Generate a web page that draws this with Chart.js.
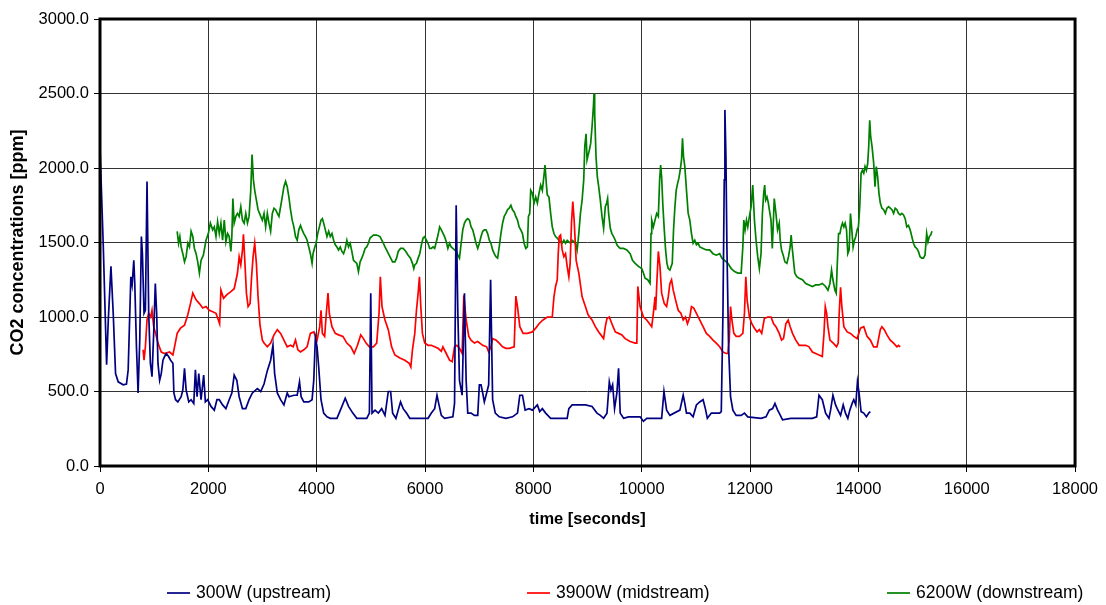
<!DOCTYPE html>
<html>
<head>
<meta charset="utf-8">
<title>CO2 concentrations</title>
<script src="https://cdn.jsdelivr.net/npm/chart.js@4.4.1/dist/chart.umd.min.js"></script>
<style>
  html, body { margin: 0; padding: 0; background: #fff; }
  #wrap { width: 1106px; height: 605px; }
</style>
</head>
<body>
<div id="wrap"><canvas id="co2Chart" width="1106" height="605"></canvas></div>
<script>
/* ---- measured series: time [s] / CO2 [ppm] ---- */

// 300W (upstream)
const upTime = [0, 61, 122, 153, 202, 244, 287, 336, 428, 489, 520, 550, 569, 593, 624, 642, 673, 703, 734, 764,
  783, 813, 838, 868, 899, 930, 960, 991, 1021, 1046, 1070, 1101, 1131, 1162, 1193, 1223, 1266, 1303, 1346, 1364,
  1395, 1437, 1498, 1529, 1560, 1590, 1639, 1682, 1731, 1761, 1792, 1823, 1865, 1914, 1945, 1988, 2049, 2110, 2159, 2202,
  2263, 2324, 2385, 2434, 2477, 2526, 2569, 2630, 2691, 2752, 2813, 2905, 2967, 3028, 3089, 3150, 3193, 3224, 3273, 3334,
  3395, 3456, 3487, 3579, 3640, 3683, 3713, 3762, 3854, 3915, 3946, 3976, 4007, 4037, 4080, 4129, 4190, 4251, 4374, 4466,
  4527, 4588, 4667, 4741, 4924, 4973, 4998, 5022, 5077, 5138, 5200, 5261, 5322, 5365, 5402, 5463, 5505, 5548, 5597, 5658,
  5719, 6056, 6117, 6178, 6221, 6258, 6301, 6361, 6514, 6545, 6575, 6606, 6636, 6685, 6728, 6759, 6789, 6850, 6912, 6973,
  7003, 7034, 7065, 7095, 7138, 7175, 7211, 7248, 7297, 7370, 7493, 7615, 7707, 7750, 7799, 7848, 7921, 7982, 8074, 8117,
  8166, 8227, 8319, 8624, 8655, 8716, 8961, 9083, 9175, 9236, 9297, 9359, 9402, 9432, 9463, 9499, 9542, 9573, 9603, 9665,
  9756, 9970, 10032, 10093, 10368, 10411, 10460, 10521, 10705, 10766, 10796, 10827, 10888, 10949, 11010, 11071, 11133, 11175, 11212, 11286,
  11439, 11469, 11500, 11524, 11536, 11555, 11573, 11604, 11640, 11683, 11744, 11836, 11897, 11958, 12203, 12295, 12356, 12417, 12460, 12509,
  12539, 12600, 12753, 13151, 13230, 13273, 13334, 13395, 13457, 13487, 13530, 13579, 13609, 13671, 13720, 13762, 13805, 13842, 13885, 13915,
  13952, 13983, 14013, 14050, 14099, 14148, 14191, 14221];
const upCO2 = [2140, 1470, 680, 980, 1340, 1025, 620, 565, 545, 550, 645, 1025, 1270, 1215, 1380, 1225, 800, 490, 845, 1540,
  1425, 1025, 1045, 1910, 1025, 690, 600, 890, 1225, 1025, 690, 575, 620, 710, 735, 755, 735, 710, 690, 490,
  445, 430, 465, 510, 655, 510, 430, 445, 420, 645, 465, 620, 445, 610, 430, 445, 400, 375, 445, 445,
  410, 385, 445, 490, 610, 575, 465, 385, 385, 445, 490, 520, 500, 550, 640, 710, 810, 620, 490, 445,
  410, 490, 465, 475, 475, 565, 465, 430, 430, 445, 575, 860, 800, 665, 445, 355, 330, 320, 320, 400,
  455, 400, 355, 320, 320, 355, 1160, 355, 375, 355, 385, 340, 500, 500, 355, 320, 375, 430, 385, 355,
  320, 320, 355, 385, 475, 410, 340, 320, 330, 420, 1750, 1025, 575, 475, 1160, 575, 355, 355, 340, 340,
  545, 545, 490, 430, 490, 545, 1250, 445, 355, 330, 320, 330, 355, 475, 475, 375, 385, 375, 410, 365,
  385, 355, 320, 320, 385, 410, 410, 400, 355, 340, 320, 355, 565, 510, 545, 385, 490, 655, 355, 320,
  330, 330, 300, 320, 320, 500, 375, 340, 375, 475, 420, 355, 355, 330, 410, 430, 445, 385, 320, 355,
  355, 365, 1025, 1920, 2390, 2075, 1470, 800, 465, 375, 340, 340, 355, 330, 320, 330, 375, 385, 420, 375,
  355, 310, 320, 320, 330, 475, 445, 355, 320, 375, 475, 410, 385, 340, 410, 355, 320, 375, 420, 445,
  410, 565, 490, 365, 355, 330, 355, 365];

// 3900W (midstream)
const midTime = [795, 813, 838, 868, 899, 936, 960, 991, 1027, 1070, 1131, 1193, 1284, 1346, 1376, 1425, 1486, 1560, 1621, 1670,
  1713, 1774, 1835, 1896, 1957, 2018, 2080, 2141, 2184, 2208, 2232, 2281, 2343, 2416, 2477, 2538, 2569, 2599, 2630, 2648,
  2673, 2703, 2734, 2771, 2795, 2826, 2856, 2887, 2918, 2954, 2997, 3028, 3089, 3150, 3212, 3273, 3334, 3395, 3456, 3517,
  3566, 3609, 3652, 3701, 3762, 3823, 3884, 3946, 4007, 4056, 4080, 4105, 4147, 4178, 4209, 4233, 4282, 4343, 4404, 4484,
  4557, 4631, 4692, 4753, 4814, 4863, 4912, 4973, 5047, 5108, 5151, 5175, 5206, 5261, 5322, 5383, 5444, 5536, 5628, 5707,
  5738, 5768, 5811, 5842, 5873, 5897, 5922, 5952, 5995, 6056, 6117, 6178, 6240, 6301, 6330, 6392, 6453, 6502, 6545, 6587,
  6636, 6685, 6716, 6759, 6808, 6850, 6912, 6973, 7065, 7138, 7175, 7217, 7248, 7309, 7370, 7431, 7493, 7554, 7646, 7677,
  7707, 7750, 7811, 7890, 7982, 8043, 8104, 8178, 8257, 8349, 8380, 8410, 8441, 8459, 8477, 8502, 8532, 8563, 8594, 8624,
  8655, 8679, 8704, 8728, 8753, 8790, 8839, 8900, 8961, 9010, 9083, 9144, 9206, 9267, 9297, 9328, 9359, 9402, 9450, 9512,
  9573, 9634, 9695, 9787, 9879, 9910, 9928, 9970, 10032, 10093, 10185, 10215, 10246, 10258, 10282, 10307, 10337, 10368, 10417, 10460,
  10490, 10521, 10551, 10582, 10625, 10674, 10723, 10766, 10808, 10845, 10888, 10919, 10961, 11010, 11071, 11133, 11194, 11255, 11316, 11377,
  11439, 11500, 11561, 11591, 11616, 11640, 11665, 11701, 11744, 11805, 11867, 11897, 11922, 11946, 11989, 12032, 12081, 12130, 12172, 12215,
  12264, 12326, 12387, 12435, 12478, 12539, 12582, 12618, 12661, 12704, 12741, 12784, 12845, 12906, 12967, 13028, 13089, 13151, 13212, 13273,
  13334, 13365, 13389, 13414, 13438, 13475, 13536, 13597, 13628, 13646, 13671, 13695, 13732, 13793, 13854, 13915, 13977, 14038, 14099, 14160,
  14221, 14282, 14344, 14405, 14435, 14478, 14527, 14588, 14650, 14711, 14741, 14772];
const midCO2 = [780, 710, 800, 980, 1025, 1000, 1045, 935, 890, 825, 765, 755, 765, 745, 800, 890, 925, 945, 1015, 1090,
  1160, 1115, 1090, 1060, 1070, 1045, 1035, 1025, 980, 955, 1180, 1125, 1150, 1170, 1190, 1295, 1405, 1350, 1450, 1555,
  1380, 1160, 1070, 1090, 1250, 1405, 1495, 1360, 1135, 945, 845, 825, 800, 825, 880, 915, 890, 845, 800, 810,
  800, 845, 780, 765, 780, 800, 890, 900, 845, 935, 1045, 890, 870, 1025, 1160, 1025, 935, 890, 880, 870,
  825, 800, 755, 810, 880, 855, 825, 800, 800, 825, 1025, 1270, 1070, 980, 915, 800, 745, 725, 710, 690,
  665, 780, 890, 1045, 1160, 1270, 1070, 890, 825, 810, 810, 800, 790, 770, 800, 755, 710, 700, 800, 810,
  790, 755, 1145, 980, 870, 845, 825, 835, 810, 800, 765, 800, 855, 845, 825, 800, 790, 790, 800, 1140,
  1070, 935, 890, 890, 900, 925, 955, 980, 1000, 1000, 1135, 1205, 1250, 1425, 1540, 1550, 1450, 1405, 1425, 1340,
  1270, 1360, 1630, 1775, 1650, 1380, 1295, 1135, 1070, 1015, 980, 935, 900, 870, 855, 935, 990, 1000, 955, 900,
  890, 880, 855, 835, 825, 825, 1205, 1070, 1000, 980, 935, 1025, 1135, 1045, 1250, 1440, 1340, 1160, 1090, 1070,
  1135, 1225, 1250, 1180, 1115, 1045, 1025, 980, 1000, 955, 1000, 1070, 1060, 1025, 980, 935, 890, 870, 845, 825,
  800, 765, 755, 755, 845, 1070, 980, 890, 870, 870, 890, 1025, 1270, 1115, 1000, 955, 925, 900, 915, 890,
  990, 1000, 1000, 955, 935, 890, 845, 855, 955, 980, 935, 890, 845, 810, 810, 810, 800, 765, 755, 745,
  735, 890, 1070, 1025, 935, 845, 825, 800, 825, 1025, 1200, 1070, 935, 900, 890, 870, 855, 925, 935, 870,
  845, 800, 800, 915, 935, 915, 880, 845, 825, 800, 810, 800];

// 6200W (downstream)
const downTime = [1425, 1450, 1474, 1498, 1529, 1560, 1590, 1621, 1651, 1682, 1713, 1743, 1774, 1804, 1835, 1865, 1908, 1957, 2000, 2037,
  2080, 2110, 2141, 2171, 2202, 2232, 2263, 2294, 2324, 2355, 2385, 2416, 2434, 2453, 2477, 2508, 2538, 2569, 2599, 2630,
  2661, 2691, 2722, 2752, 2783, 2807, 2832, 2856, 2887, 2918, 2967, 2997, 3028, 3058, 3089, 3119, 3150, 3181, 3212, 3242,
  3273, 3303, 3334, 3364, 3395, 3426, 3456, 3487, 3517, 3548, 3579, 3609, 3640, 3670, 3701, 3731, 3762, 3793, 3823, 3854,
  3884, 3915, 3933, 3958, 3988, 4019, 4050, 4080, 4105, 4129, 4160, 4190, 4221, 4251, 4282, 4313, 4343, 4374, 4404, 4435,
  4466, 4496, 4527, 4557, 4588, 4618, 4649, 4680, 4710, 4741, 4771, 4802, 4833, 4863, 4894, 4924, 4955, 4985, 5016, 5047,
  5108, 5169, 5218, 5261, 5303, 5352, 5401, 5444, 5475, 5505, 5548, 5597, 5646, 5689, 5732, 5768, 5793, 5811, 5842, 5873,
  5903, 5934, 5964, 5995, 6025, 6056, 6086, 6117, 6148, 6178, 6209, 6240, 6270, 6301, 6361, 6392, 6422, 6453, 6483, 6514,
  6545, 6575, 6606, 6636, 6667, 6697, 6728, 6759, 6789, 6820, 6850, 6881, 6912, 6942, 6973, 7003, 7034, 7065, 7095, 7126,
  7156, 7187, 7217, 7248, 7278, 7309, 7340, 7370, 7401, 7432, 7462, 7493, 7523, 7554, 7585, 7615, 7646, 7676, 7707, 7737,
  7768, 7799, 7829, 7860, 7890, 7909, 7933, 7951, 7982, 8013, 8043, 8074, 8104, 8135, 8166, 8196, 8215, 8239, 8257, 8288,
  8319, 8349, 8380, 8410, 8441, 8471, 8502, 8533, 8563, 8594, 8625, 8655, 8686, 8716, 8747, 8778, 8808, 8839, 8869, 8900,
  8930, 8949, 8973, 8991, 9010, 9034, 9058, 9083, 9108, 9120, 9132, 9157, 9181, 9206, 9236, 9267, 9297, 9328, 9353, 9371,
  9389, 9420, 9450, 9481, 9512, 9542, 9573, 9603, 9665, 9726, 9787, 9830, 9879, 9940, 10001, 10032, 10062, 10111, 10154, 10172,
  10185, 10215, 10246, 10276, 10307, 10331, 10350, 10368, 10392, 10417, 10441, 10466, 10490, 10521, 10564, 10588, 10613, 10637, 10662, 10686,
  10711, 10735, 10753, 10772, 10796, 10827, 10858, 10888, 10919, 10949, 10980, 11010, 11041, 11072, 11133, 11194, 11255, 11316, 11377, 11439,
  11481, 11530, 11591, 11653, 11714, 11775, 11836, 11867, 11885, 11909, 11934, 11958, 11989, 12020, 12050, 12081, 12111, 12142, 12172, 12203,
  12228, 12252, 12270, 12289, 12313, 12338, 12356, 12387, 12411, 12447, 12478, 12508, 12539, 12557, 12582, 12612, 12643, 12680, 12710, 12741,
  12759, 12777, 12802, 12826, 12863, 12906, 12967, 13028, 13089, 13151, 13212, 13273, 13334, 13395, 13438, 13475, 13505, 13530, 13567, 13591,
  13609, 13634, 13659, 13683, 13707, 13732, 13756, 13781, 13805, 13830, 13854, 13879, 13903, 13928, 13952, 13977, 14001, 14025, 14050, 14074,
  14099, 14123, 14148, 14172, 14191, 14209, 14227, 14252, 14283, 14307, 14331, 14356, 14380, 14405, 14435, 14466, 14497, 14527, 14558, 14588,
  14619, 14650, 14680, 14711, 14741, 14772, 14803, 14833, 14864, 14894, 14925, 14956, 14986, 15017, 15047, 15078, 15108, 15139, 15169, 15200,
  15230, 15261, 15285, 15310, 15334, 15359];
const downCO2 = [1575, 1495, 1540, 1470, 1425, 1370, 1405, 1495, 1470, 1575, 1540, 1460, 1425, 1370, 1295, 1380, 1415, 1515, 1560, 1630,
  1585, 1605, 1540, 1640, 1560, 1630, 1515, 1650, 1505, 1560, 1540, 1440, 1540, 1795, 1630, 1675, 1695, 1675, 1740, 1650,
  1630, 1695, 1630, 1675, 1850, 2090, 1920, 1850, 1785, 1720, 1675, 1650, 1695, 1605, 1695, 1630, 1575, 1695, 1730, 1720,
  1695, 1675, 1740, 1805, 1875, 1910, 1875, 1805, 1720, 1650, 1605, 1540, 1515, 1585, 1615, 1585, 1560, 1540, 1515, 1470,
  1425, 1360, 1425, 1460, 1495, 1560, 1605, 1650, 1660, 1630, 1585, 1540, 1575, 1540, 1560, 1515, 1485, 1470, 1450, 1470,
  1440, 1425, 1460, 1515, 1470, 1495, 1440, 1380, 1370, 1360, 1305, 1370, 1395, 1425, 1460, 1470, 1495, 1530, 1540, 1550,
  1550, 1540, 1505, 1470, 1440, 1405, 1370, 1370, 1395, 1440, 1460, 1460, 1440, 1415, 1395, 1360, 1325, 1350, 1360, 1395,
  1425, 1485, 1530, 1540, 1515, 1495, 1460, 1460, 1470, 1460, 1505, 1550, 1605, 1585, 1540, 1505, 1460, 1495, 1470, 1460,
  1450, 1440, 1415, 1395, 1495, 1585, 1630, 1650, 1660, 1650, 1605, 1585, 1540, 1495, 1460, 1495, 1540, 1575, 1585, 1585,
  1560, 1515, 1495, 1450, 1425, 1405, 1395, 1470, 1560, 1630, 1675, 1695, 1720, 1730, 1750, 1720, 1705, 1675, 1650, 1605,
  1585, 1560, 1495, 1460, 1470, 1675, 1695, 1850, 1830, 1765, 1805, 1765, 1830, 1885, 1850, 1950, 2020, 1895, 1820, 1805,
  1695, 1605, 1560, 1540, 1530, 1515, 1505, 1495, 1515, 1495, 1515, 1505, 1495, 1515, 1505, 1495, 1450, 1560, 1695, 1785,
  1920, 2145, 2230, 2055, 2085, 2120, 2165, 2275, 2410, 2500, 2365, 2075, 1940, 1875, 1785, 1675, 1595, 1740, 1765, 1795,
  1695, 1595, 1560, 1540, 1515, 1485, 1470, 1460, 1460, 1450, 1425, 1380, 1360, 1340, 1325, 1295, 1260, 1250, 1225, 1560,
  1650, 1605, 1650, 1695, 1675, 1920, 2020, 1940, 1740, 1585, 1450, 1360, 1325, 1315, 1360, 1585, 1740, 1850, 1895, 1930,
  1985, 2055, 2200, 2075, 2010, 1850, 1695, 1650, 1560, 1495, 1515, 1485, 1495, 1470, 1460, 1450, 1450, 1425, 1415, 1425,
  1395, 1380, 1360, 1325, 1305, 1295, 1295, 1470, 1650, 1585, 1650, 1605, 1675, 1740, 1885, 1650, 1515, 1405, 1325, 1425,
  1695, 1830, 1885, 1785, 1805, 1765, 1720, 1650, 1460, 1795, 1695, 1585, 1630, 1515, 1450, 1415, 1370, 1360, 1405, 1470,
  1550, 1470, 1380, 1295, 1270, 1260, 1250, 1225, 1215, 1205, 1215, 1215, 1225, 1205, 1180, 1225, 1315, 1250, 1180, 1160,
  1340, 1560, 1560, 1605, 1630, 1605, 1630, 1585, 1425, 1450, 1695, 1585, 1470, 1515, 1540, 1585, 1605, 1740, 1965, 1985,
  1965, 2010, 1985, 2030, 2145, 2320, 2210, 2145, 2030, 1875, 2010, 1940, 1830, 1765, 1730, 1720, 1695, 1730, 1740, 1730,
  1720, 1695, 1730, 1720, 1695, 1685, 1695, 1685, 1660, 1605, 1615, 1585, 1540, 1495, 1470, 1460, 1440, 1405, 1395, 1395,
  1415, 1560, 1505, 1540, 1550, 1575];

const seriesNames = ['300W (upstream)', '3900W (midstream)', '6200W (downstream)'];
const seriesColors = ['#000080', '#FF0000', '#008000'];

// axis ranges
const xMax = 18000, xStep = 2000;
const yMax = 3000, yStep = 500;

const FONT = "Arial, 'Liberation Sans', sans-serif";

function toPoints(times, values) {
    return times.map((t, i) => ({ x: t, y: values[i] }));
}

/* Heavy black frame around the plot area */
const frameBox = {
    id: 'frameBox',
    afterDraw(chart) {
        const { ctx, chartArea: a } = chart;
        ctx.save();
        ctx.strokeStyle = '#000';
        ctx.lineWidth = 3;
        ctx.strokeRect(a.left, a.top, a.right - a.left, a.bottom - a.top);
        ctx.restore();
    },
};

/* Legend row under the axis title, one column per series */
const bottomLegend = {
    id: 'bottomLegend',
    afterDraw(chart) {
        const { ctx } = chart;
        const y = 593;
        ctx.save();
        ctx.font = '17.5px ' + FONT;
        ctx.textBaseline = 'middle';
        chart.data.datasets.forEach((ds, i) => {
            const x0 = 167 + i * 360;
            ctx.strokeStyle = ds.borderColor;
            ctx.lineWidth = 1.7;
            ctx.beginPath();
            ctx.moveTo(x0, y);
            ctx.lineTo(x0 + 23, y);
            ctx.stroke();
            ctx.fillStyle = '#000';
            ctx.fillText(ds.label, x0 + 29, y);
        });
        ctx.restore();
    },
};

const datasets = [
    toPoints(upTime, upCO2),
    toPoints(midTime, midCO2),
    toPoints(downTime, downCO2),
].map((pts, i) => ({
    label: seriesNames[i],
    data: pts,
    borderColor: seriesColors[i],
    backgroundColor: seriesColors[i],
    borderWidth: 1.7,
    pointRadius: 0,
    tension: 0,
    fill: false,
}));

new Chart(document.getElementById('co2Chart'), {
    type: 'line',
    data: { datasets },
    options: {
        responsive: false,
        animation: false,
        layout: { padding: { top: 19, right: 28, left: 0, bottom: 0 } },
        plugins: {
            legend: { display: false },
            tooltip: { enabled: false },
        },
        scales: {
            x: {
                type: 'linear',
                min: 0,
                max: xMax,
                afterFit(scale) { scale.height = 139; },
                ticks: {
                    stepSize: xStep,
                    maxRotation: 0,
                    padding: 8,
                    color: '#000',
                    font: { family: FONT, size: 16.5 },
                    callback: (v) => String(v),
                },
                grid: { color: '#333', lineWidth: 1, tickColor: '#000', tickLength: 6 },
                border: { display: false },
                title: {
                    display: true,
                    text: 'time [seconds]',
                    color: '#000',
                    font: { family: FONT, size: 16.5, weight: 'bold' },
                    padding: { top: 0, bottom: 76 },
                },
            },
            y: {
                min: 0,
                max: yMax,
                afterFit(scale) { scale.width = 100; },
                ticks: {
                    stepSize: yStep,
                    padding: 5,
                    color: '#000',
                    font: { family: FONT, size: 16.5 },
                    callback: (v) => v.toFixed(1),
                },
                grid: { color: '#333', lineWidth: 1, tickColor: '#000', tickLength: 6 },
                border: { display: false },
                title: {
                    display: true,
                    text: 'CO2 concentrations [ppm]',
                    color: '#000',
                    font: { family: FONT, size: 18, weight: 'bold' },
                    padding: { top: 7, bottom: 0 },
                },
            },
        },
    },
    plugins: [frameBox, bottomLegend],
});
</script>
</body>
</html>
